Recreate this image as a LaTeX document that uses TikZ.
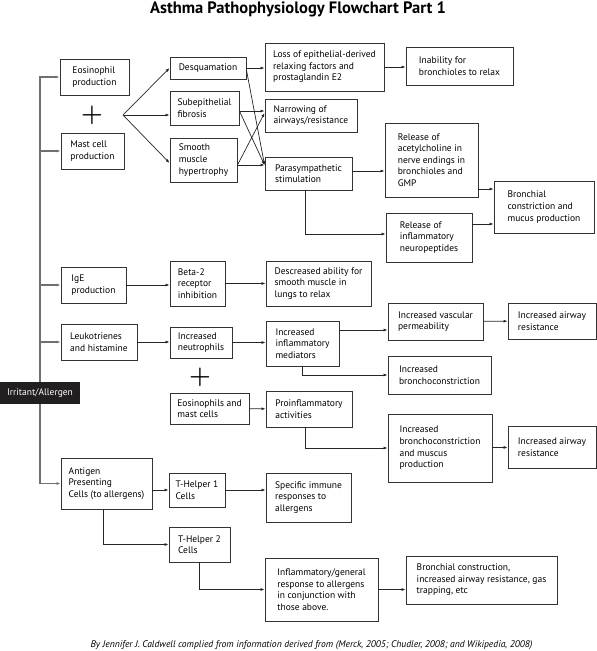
\documentclass[tikz,border=0pt]{standalone}
\usepackage{fontspec}
\setmainfont{PT Sans}
\usetikzlibrary{arrows.meta,positioning}

\definecolor{boxline}{HTML}{333333}
\definecolor{trunkgray}{HTML}{707070}
\definecolor{irrfill}{HTML}{231F20}

\begin{document}
\begin{tikzpicture}[x=1pt, y=-1pt, >={Latex[length=4pt, width=3pt]},
  box/.style={draw=boxline, line width=0.9pt, align=left, inner xsep=2pt, inner ysep=1pt,
    font=\fontsize{9.5}{11.6}\selectfont},
  link/.style={->, draw=black!85, line width=0.7pt},
  trunk/.style={->, draw=trunkgray, line width=1.5pt},
  plus/.style={font=\fontsize{28}{28}\selectfont\boldmath, inner sep=0pt}]

\useasboundingbox (0,0) rectangle (597,651);

% Titulo y pie
\node[font=\bfseries\fontsize{16.5}{18}\selectfont] (title) at (298,9) {Asthma Pathophysiology Flowchart Part 1};
\node[font=\itshape\fontsize{9.6}{11}\selectfont] (credit) at (311.5,645) {By Jennifer J. Caldwell complied from information derived from (Merck, 2005; Chudler, 2008; and Wikipedia, 2008)};

% Nodo de origen
\node[fill=irrfill, text=white, minimum width=80pt, minimum height=22pt, inner sep=0pt,
  font=\fontsize{9.5}{11}\selectfont] (irr) at (40,393) {Irritant/Allergen};

% Primera columna
\node[box, minimum width=69pt, minimum height=36pt] (eos) at (94.5,77) {Eosinophil\\production};
\node[plus] (plusa) at (92,115) {$+$};
\node[box, minimum width=63pt, minimum height=36pt] (mast) at (92.5,151) {Mast cell\\production};
\node[box, minimum width=65pt, minimum height=36pt] (ige) at (93.5,285) {IgE\\production};
\node[box, minimum width=76pt, minimum height=36pt] (leuko) at (99,342) {Leukotrienes\\and histamine};
\node[box, minimum width=91pt, minimum height=51pt] (apc) at (106.5,483.5) {Antigen\\Presenting\\Cells (to allergens)};

% Segunda columna
\node[box, minimum width=76pt, minimum height=22pt] (desq) at (208,68) {Desquamation};
\node[box, minimum width=69pt, minimum height=34pt] (subep) at (204.5,108) {Subepithelial\\fibrosis};
\node[box, minimum width=67pt, minimum height=44pt] (smooth) at (203.5,160) {Smooth\\muscle\\hypertrophy};
\node[box, minimum width=55pt, minimum height=45pt] (beta) at (197.5,283.5) {Beta-2\\receptor\\inhibition};
\node[box, minimum width=62pt, minimum height=31pt] (neut) at (201,342.5) {Increased\\neutrophils};
\node[plus] (plusb) at (200,377) {$+$};
\node[box, minimum width=79pt, minimum height=31pt] (eosm) at (209.5,408.5) {Eosinophils and\\mast cells};
\node[box, minimum width=56pt, minimum height=34pt] (th1) at (197,490) {T-Helper 1\\Cells};
\node[box, minimum width=61pt, minimum height=35pt] (th2) at (199.5,544.5) {T-Helper 2\\Cells};

% Tercera columna
\node[box, minimum width=119pt, minimum height=48pt] (loss) at (324.5,67) {Loss of epithelial-derived\\relaxing factors and\\prostaglandin E2};
\node[box, minimum width=92pt, minimum height=33pt] (narrow) at (311,115.5) {Narrowing of\\airways/resistance};
\node[box, minimum width=87pt, minimum height=33pt] (para) at (308.5,173.5) {Parasympathetic\\stimulation};
\node[box, minimum width=105pt, minimum height=45pt] (desc) at (318.5,283.5) {Descreased ability for\\smooth muscle in\\lungs to relax};
\node[box, minimum width=73pt, minimum height=45pt] (infl) at (302.5,343.5) {Increased\\inflammatory\\mediators};
\node[box, minimum width=86pt, minimum height=36pt] (proinf) at (309,409) {Proinflammatory\\activities};
\node[box, minimum width=85pt, minimum height=49pt] (spec) at (308.5,497.5) {Specific immune\\responses to\\allergens};
\node[box, minimum width=113pt, minimum height=63pt] (infg) at (321.5,589.5) {Inflammatory/general\\response to allergens\\in conjunction with\\those above.};

% Cuarta columna
\node[box, minimum width=107pt, minimum height=38pt] (inab) at (459.5,66) {Inability for\\bronchioles to relax};
\node[box, minimum width=93pt, minimum height=74pt] (ach) at (431.5,160) {Release of\\acetylcholine in\\nerve endings in\\bronchioles and\\GMP};
\node[box, minimum width=86pt, minimum height=49pt] (neuro) at (429,237.5) {Release of\\inflammatory\\neuropeptides};
\node[box, minimum width=95pt, minimum height=37pt] (vasc) at (435.5,321.5) {Increased vascular\\permeability};
\node[box, minimum width=103pt, minimum height=38pt] (bronc) at (439.5,375) {Increased\\bronchoconstriction};
\node[box, minimum width=104pt, minimum height=68pt] (muscus) at (440,448) {Increased\\bronchoconstriction\\and muscus\\production};
\node[box, minimum width=151pt, minimum height=48pt] (bcon) at (481.5,580) {Bronchial construction,\\increased airway resistance, gas\\trapping, etc};

% Quinta columna
\node[box, minimum width=100pt, minimum height=52pt] (bronch) at (544,207) {Bronchial\\constriction and\\mucus production};
\node[box, minimum width=88pt, minimum height=36pt] (aira) at (552,321) {Increased airway\\resistance};
\node[box, minimum width=88pt, minimum height=42pt] (airb) at (552,447) {Increased airway\\resistance};

% Tronco desde Irritant/Allergen
\draw[trunk] (irr) |- (eos);
\draw[trunk] (irr) |- (mast);
\draw[trunk] (irr) |- (ige);
\draw[trunk] (irr) |- (leuko);
\draw[trunk] (irr) |- (apc);

% Abanico desde el signo +
\coordinate (fan) at (123,115);
\draw[link] (fan) -- (desq.west);
\draw[link] (fan) -- (fan -| subep.west);
\draw[link] (fan) -- ([yshift=-3pt]smooth.west);

% Cruces hacia la tercera columna
\draw[link] (desq.east) -- (desq.east -| loss.west);
\draw[link] ([yshift=-2pt]desq.east) -- ([yshift=8.5pt]para.west);
\draw[link] ([yshift=-3pt]subep.east) -- ([yshift=-3pt]subep.east -| narrow.west);
\draw[link] ([yshift=-3pt]subep.east) -- ([yshift=8.5pt]para.west);
\draw[link] ([yshift=-5pt]smooth.east) -- ([yshift=2.5pt]narrow.west);
\draw[link] ([yshift=-5pt]smooth.east) -- ([yshift=8.5pt]para.west);
\draw[link] (loss.east) -- (loss.east -| inab.west);
\draw[link] ([yshift=2.5pt]para.east) -- ([yshift=2.5pt]para.east -| ach.west);
\draw[link] ([xshift=-3.5pt]para.south) |- ([yshift=3.5pt]neuro.west);
\draw[link] ([yshift=-29pt]ach.east) -- ([yshift=-29pt]ach.east -| bronch.west);
\draw[link] ([yshift=13.5pt]neuro.east) -- ([yshift=13.5pt]neuro.east -| bronch.west);

% Filas centrales
\draw[link] (ige.east) -- (ige.east -| beta.west);
\draw[link] (beta) -- (desc);
\draw[link] (leuko.east) -- (leuko.east -| neut.west);
\draw[link] (neut.east) -- (neut.east -| infl.west);
\draw[link] ([yshift=-8.5pt]vasc.west -| infl.east) -- ([yshift=-8.5pt]vasc.west);
\draw[link] (vasc) -- (aira);
\draw[link] (infl) |- (bronc);
\draw[link] (eosm) -- (proinf);
\draw[link] ([xshift=-4pt]proinf.south) |- (muscus);
\draw[link] (muscus) -- (airb);

% Celulas T
\draw[link] (th1.west -| apc.east) -- (th1.west);
\draw[link] (th1.east) -- (th1.east -| spec.west);
\draw[link] ([xshift=-3.5pt]apc.south) |- (th2);
\draw[link] (th2) |- (infg);
\draw[link] (infg.east) -- (infg.east -| bcon.west);

\end{tikzpicture}
\end{document}
